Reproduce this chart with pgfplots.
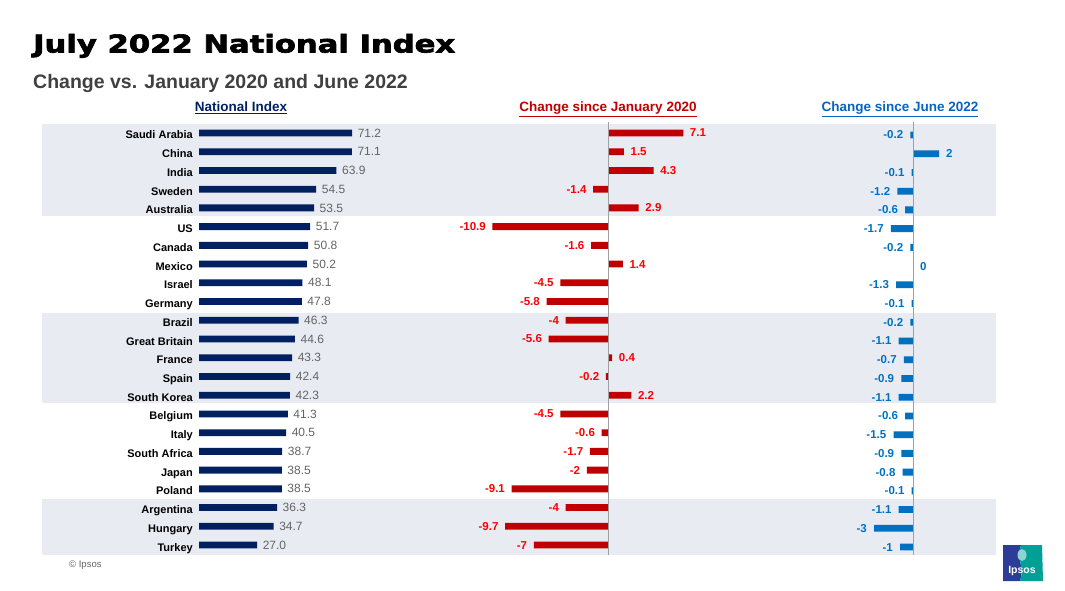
\documentclass[border=0pt]{standalone}
\usepackage{pgfplots}
\pgfplotsset{compat=1.18}
\usepackage{pgfplotstable}
\usepackage{fontspec}
\setmainfont{Liberation Sans}
\newfontfamily\titlefont[BoldFeatures={FakeBold=2.5}]{DejaVu Sans}
\definecolor{band}{RGB}{233,235,243}
\definecolor{navy}{RGB}{0,32,96}
\definecolor{darkred}{RGB}{192,0,0}
\definecolor{brightred}{RGB}{255,0,0}
\definecolor{ipblue}{RGB}{0,112,192}
\definecolor{hdrblue}{RGB}{5,99,193}
\definecolor{valgrey}{RGB}{100,100,100}
\definecolor{subgrey}{RGB}{64,64,64}
\definecolor{zline}{RGB}{160,160,160}
\definecolor{logoblue}{RGB}{45,60,150}
\definecolor{logoteal}{RGB}{0,160,150}

\pgfplotstableread[col sep=comma]{
idx,name,nat,jan,jun
0,Saudi Arabia,71.2,7.1,-0.2
1,China,71.1,1.5,2
2,India,63.9,4.3,-0.1
3,Sweden,54.5,-1.4,-1.2
4,Australia,53.5,2.9,-0.6
5,US,51.7,-10.9,-1.7
6,Canada,50.8,-1.6,-0.2
7,Mexico,50.2,1.4,0
8,Israel,48.1,-4.5,-1.3
9,Germany,47.8,-5.8,-0.1
10,Brazil,46.3,-4,-0.2
11,Great Britain,44.6,-5.6,-1.1
12,France,43.3,0.4,-0.7
13,Spain,42.4,-0.2,-0.9
14,South Korea,42.3,2.2,-1.1
15,Belgium,41.3,-4.5,-0.6
16,Italy,40.5,-0.6,-1.5
17,South Africa,38.7,-1.7,-0.9
18,Japan,38.5,-2,-0.8
19,Poland,38.5,-9.1,-0.1
20,Argentina,36.3,-4,-1.1
21,Hungary,34.7,-9.7,-3
22,Turkey,27.0,-7,-1
}\data

\pgfplotsset{rowaxis/.style={
  scale only axis, height=430.8pt, xbar, bar width=6.8pt,
  y dir=reverse, ymin=-0.5, ymax=22.5, enlargelimits=false, clip=false,
  axis line style={draw=none}, xtick=\empty, ytick=\empty, major tick length=0pt,
  point meta=x, anchor=north west,
  /pgf/number format/assume math mode=true,
}}

\begin{document}
\begin{tikzpicture}
\path[use as bounding box] (0,0) rectangle (1065pt,-590pt);
% background bands
\fill[band] (42pt,-123.5pt) rectangle (996pt,-216pt);
\fill[band] (42pt,-312.7pt) rectangle (996pt,-403.3pt);
\fill[band] (42pt,-498.5pt) rectangle (996pt,-554.5pt);

% titles
\node[anchor=base west, inner sep=0pt] at (33pt,-52.5pt)
  {\scalebox{1.25}[1]{\titlefont\bfseries\fontsize{24.5}{28}\selectfont July 2022 National Index}};
\node[anchor=base west, inner sep=0pt, text=subgrey, font=\fontsize{19.5}{22}\selectfont\bfseries]
  at (33pt,-88.3pt) {Change vs. January 2020 and June 2022};

% column headers
\node[anchor=base, inner sep=0pt, text=navy, font=\fontsize{13.5}{16}\selectfont\bfseries]
  at (241pt,-111.5pt) {\underline{National Index}};
\node[anchor=base, inner sep=0pt, text=darkred, font=\fontsize{13.5}{16}\selectfont\bfseries]
  at (608pt,-111.5pt) {\underline{Change since January 2020}};
\node[anchor=base, inner sep=0pt, text=hdrblue, font=\fontsize{13.5}{16}\selectfont\bfseries]
  at (900pt,-111.5pt) {\underline{Change since June 2022}};

% National index
\begin{axis}[rowaxis, at={(199pt,-123.6pt)}, width=215pt, xmin=0, xmax=100,
  ytick={0,...,22}, yticklabels from table={\data}{name},
  yticklabel style={font=\fontsize{11}{13}\selectfont\bfseries, text=black, anchor=east,
    inner sep=0pt, text height=8pt, text depth=0pt, xshift=-6pt, yshift=-2pt},
  nodes near coords={\pgfmathprintnumber[fixed,fixed zerofill,precision=1,assume math mode=true]{\pgfplotspointmeta}},
  nodes near coords style={font=\fontsize{12}{14}\selectfont, text=valgrey, inner xsep=5.5pt, inner ysep=0pt}]
\addplot[fill=navy, draw=none] table[x=nat, y=idx]{\data};
\end{axis}

% Change since January 2020
\begin{axis}[rowaxis, at={(480.8pt,-123.6pt)}, width=212pt, xmin=-12, xmax=8,
  nodes near coords={\pgfmathprintnumber[assume math mode=true]{\pgfplotspointmeta}},
  nodes near coords style={font=\fontsize{11.5}{14}\selectfont\bfseries, text=brightred, inner xsep=6.5pt, inner ysep=0pt}]
\addplot[fill=darkred, draw=none] table[x=jan, y=idx]{\data};
\draw[zline, line width=0.9pt] (axis cs:0,-0.585) -- (axis cs:0,22.53);
\end{axis}

% Change since June 2022
\begin{axis}[rowaxis, at={(861pt,-125.6pt)}, width=104pt, xmin=-4, xmax=4,
  nodes near coords={\pgfmathprintnumber[assume math mode=true]{\pgfplotspointmeta}},
  nodes near coords style={font=\fontsize{11.5}{14}\selectfont\bfseries, text=ipblue, inner xsep=7pt, inner ysep=0pt}]
\addplot[fill=ipblue, draw=none] table[x=jun, y=idx]{\data};
\draw[zline, line width=0.9pt] (axis cs:0,-0.69) -- (axis cs:0,22.43);
\end{axis}

% footer
\node[anchor=base west, inner sep=0pt, text=valgrey, font=\fontsize{9.5}{11}\selectfont]
  at (69pt,-567pt) {© Ipsos};
% logo
\fill[logoblue] (1003pt,-545pt) -- (1021pt,-545pt) .. controls (1016pt,-558pt) and (1025pt,-568pt) .. (1020pt,-581pt) -- (1003pt,-581pt) -- cycle;
\fill[logoteal] (1021pt,-545pt) -- (1042pt,-545pt) -- (1043pt,-581pt) -- (1020pt,-581pt) .. controls (1025pt,-568pt) and (1016pt,-558pt) .. (1021pt,-545pt) -- cycle;
\fill[white!55!logoteal] (1022pt,-555pt) ellipse (4.5pt and 6pt);
\node[text=white, inner sep=0pt, font=\fontsize{10.5}{12}\selectfont\bfseries] at (1022pt,-571pt) {Ipsos};
\end{tikzpicture}
\end{document}
